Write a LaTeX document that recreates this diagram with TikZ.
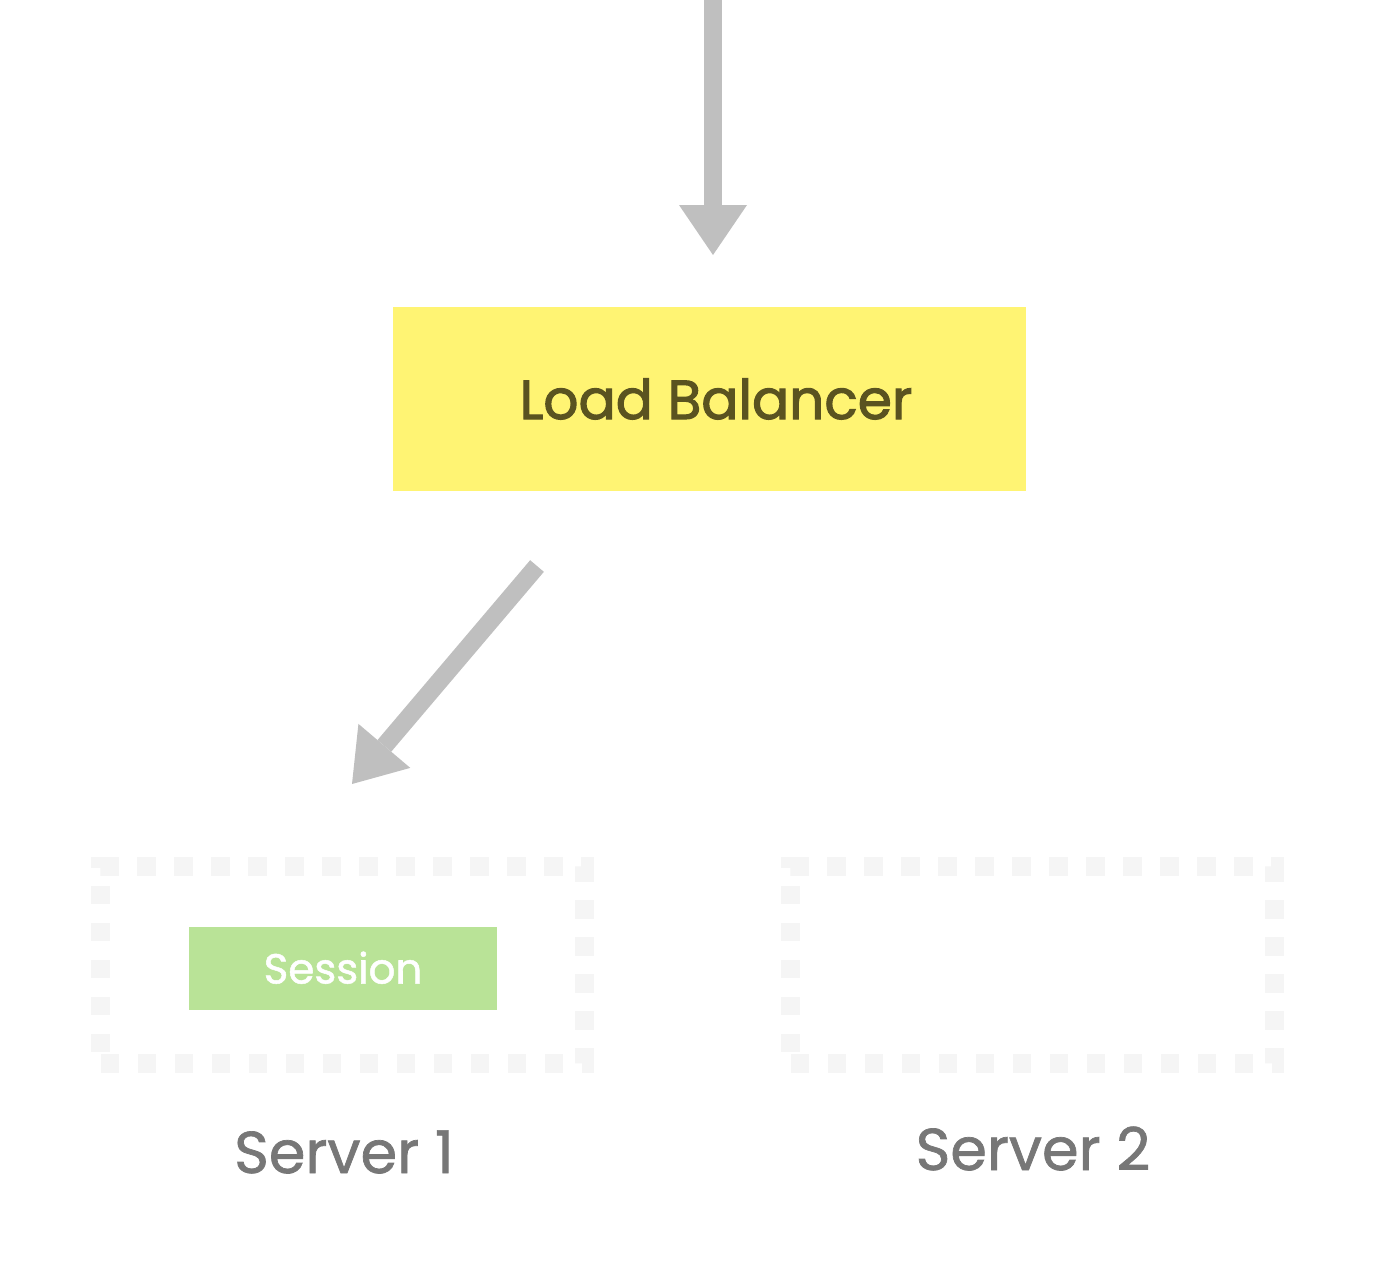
\documentclass[tikz,border=0pt]{standalone}
\usepackage{fontspec}
\setmainfont{Poppins}
\newfontfamily\heavyfont{Poppins}[FakeBold=2]
\newfontfamily\midfont{Poppins}[FakeBold=1.2]
\usetikzlibrary{arrows.meta}
\definecolor{lbfill}{HTML}{FFF473}
\definecolor{lbtext}{HTML}{5A5320}
\definecolor{sessfill}{HTML}{B9E397}
\definecolor{arrowgray}{HTML}{BFBFBF}
\definecolor{dashgray}{HTML}{F5F5F5}
\definecolor{labelgray}{HTML}{777777}
\tikzset{
  lbbox/.style={fill=lbfill, text=lbtext, minimum width=633pt, minimum height=184pt, inner sep=0pt,
    font=\heavyfont\fontsize{55}{57}\selectfont, text height=40pt, text depth=0pt},
  serverbox/.style={draw=dashgray, line width=19pt, dash pattern=on 18.5pt off 18.5pt,
    minimum width=484pt, minimum height=197pt, inner sep=0pt},
  sessbox/.style={fill=sessfill, text=white, minimum width=308pt, minimum height=83pt, inner sep=0pt,
    font=\midfont\fontsize{42}{44}\selectfont, text height=30pt, text depth=0pt},
  srvlabel/.style={text=labelgray, font=\midfont\fontsize{59}{62}\selectfont, anchor=base, inner sep=0pt},
  bigarrow/.style={draw=arrowgray, line width=18pt,
    -{Triangle[width=68pt,length=50pt,line width=0pt]}}
}
\begin{document}
\begin{tikzpicture}[x=1pt,y=-1pt]
\useasboundingbox (0,0) rectangle (1381,1270);
\node[lbbox] (lb) at (709.5,399) {\hspace*{13pt}Load Balancer};
\node[serverbox] (s1) at (342.5,965) {};
\node[serverbox] (s2) at (1032.5,965) {};
\node[sessbox] (sess) at (343,968.5) {Session};
\node[srvlabel] (l1) at (344,1173) {Server 1};
\node[srvlabel] (l2) at (1033,1170) {Server 2};
\coordinate (top) at (713,0);
\coordinate (lbin) at (713,255);
\coordinate (lbout) at (537,566);
\coordinate (s1in) at (352,784);
\draw[bigarrow] (top) -- (lbin);
\draw[bigarrow] (lbout) -- (s1in);
\end{tikzpicture}
\end{document}
